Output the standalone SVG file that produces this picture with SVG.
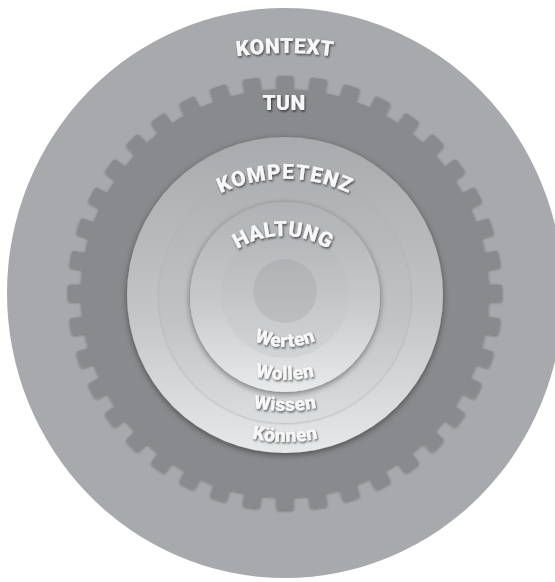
<svg xmlns="http://www.w3.org/2000/svg" xmlns:xlink="http://www.w3.org/1999/xlink" width="555" height="582" viewBox="0 0 555 582">
<style>
.lbl{font-family:Roboto,"Open Sans","Liberation Sans",sans-serif;font-weight:900;fill:#f7f7f7;filter:url(#ts);}
.cap{font-size:21px;letter-spacing:0.4px;}
.sm{font-size:19px;letter-spacing:0.3px;}
</style>
<defs>
<filter id="ts" x="-20%" y="-40%" width="140%" height="180%">
<feDropShadow dx="1" dy="1.5" stdDeviation="1.2" flood-color="#000" flood-opacity="0.6"/>
</filter>
<filter id="cs" x="-20%" y="-20%" width="140%" height="140%">
<feDropShadow dx="0" dy="2" stdDeviation="3" flood-color="#000" flood-opacity="0.45"/>
</filter>
<filter id="gs" x="-10%" y="-10%" width="120%" height="120%">
<feDropShadow dx="0" dy="1" stdDeviation="1.5" flood-color="#000" flood-opacity="0.35"/>
</filter>
<filter id="ws" x="-10%" y="-10%" width="120%" height="120%">
<feDropShadow dx="0" dy="1" stdDeviation="1.2" flood-color="#000" flood-opacity="0.18"/>
</filter>
<linearGradient id="g1" x1="0" y1="0" x2="0" y2="1">
<stop offset="0" stop-color="#a9aaad"/><stop offset="0.55" stop-color="#c3c4c6"/><stop offset="1" stop-color="#e7e8e9"/>
</linearGradient>
<linearGradient id="g2" x1="0" y1="0" x2="0" y2="1">
<stop offset="0" stop-color="#aeafb2"/><stop offset="0.6" stop-color="#c2c3c5"/><stop offset="1" stop-color="#dcdddf"/>
</linearGradient>
<linearGradient id="g3" x1="0" y1="0" x2="0" y2="1">
<stop offset="0" stop-color="#b0b1b4"/><stop offset="0.55" stop-color="#c9cacc"/><stop offset="1" stop-color="#e9eaeb"/>
</linearGradient>
<linearGradient id="g4" x1="0" y1="0" x2="0" y2="1">
<stop offset="0" stop-color="#b4b5b8"/><stop offset="1" stop-color="#d3d4d6"/>
</linearGradient>
<linearGradient id="g5" x1="0" y1="0" x2="0" y2="1">
<stop offset="0" stop-color="#b1b2b5"/><stop offset="1" stop-color="#bdbec0"/>
</linearGradient>
<rect id="tooth" x="276.5" y="76" width="17" height="22" rx="2.5"/>
<path id="pKon" d="M135,86.8 A350,350 0 0 1 435,86.8"/>
<path id="pKom" d="M145,275.1 A150,150 0 0 1 425,275.1"/>
<path id="pHal" d="M198,321 A85,85 0 0 1 368,321"/>
<path id="pWer" d="M205,267 A80,80 0 0 0 365,267"/>
<path id="pWol" d="M165,260 A120,120 0 0 0 405,260"/>
<path id="pWis" d="M125,251 A160,160 0 0 0 445,251"/>
<path id="pKoe" d="M125,282 A160,160 0 0 0 445,282"/>
</defs>
<rect width="555" height="582" fill="#ffffff"/>
<g id="kontext">
<ellipse cx="285" cy="293" rx="278" ry="285" fill="#a8a9ac"/>
<text class="lbl cap"><textPath xlink:href="#pKon" href="#pKon" startOffset="50%" text-anchor="middle">KONTEXT</textPath></text>
</g>
<g id="tun">
<g fill="#898a8d" filter="url(#gs)">
<circle cx="285" cy="293" r="204"/>
<use href="#tooth" xlink:href="#tooth" transform="rotate(0 285 293)"/>
<use href="#tooth" xlink:href="#tooth" transform="rotate(9 285 293)"/>
<use href="#tooth" xlink:href="#tooth" transform="rotate(18 285 293)"/>
<use href="#tooth" xlink:href="#tooth" transform="rotate(27 285 293)"/>
<use href="#tooth" xlink:href="#tooth" transform="rotate(36 285 293)"/>
<use href="#tooth" xlink:href="#tooth" transform="rotate(45 285 293)"/>
<use href="#tooth" xlink:href="#tooth" transform="rotate(54 285 293)"/>
<use href="#tooth" xlink:href="#tooth" transform="rotate(63 285 293)"/>
<use href="#tooth" xlink:href="#tooth" transform="rotate(72 285 293)"/>
<use href="#tooth" xlink:href="#tooth" transform="rotate(81 285 293)"/>
<use href="#tooth" xlink:href="#tooth" transform="rotate(90 285 293)"/>
<use href="#tooth" xlink:href="#tooth" transform="rotate(99 285 293)"/>
<use href="#tooth" xlink:href="#tooth" transform="rotate(108 285 293)"/>
<use href="#tooth" xlink:href="#tooth" transform="rotate(117 285 293)"/>
<use href="#tooth" xlink:href="#tooth" transform="rotate(126 285 293)"/>
<use href="#tooth" xlink:href="#tooth" transform="rotate(135 285 293)"/>
<use href="#tooth" xlink:href="#tooth" transform="rotate(144 285 293)"/>
<use href="#tooth" xlink:href="#tooth" transform="rotate(153 285 293)"/>
<use href="#tooth" xlink:href="#tooth" transform="rotate(162 285 293)"/>
<use href="#tooth" xlink:href="#tooth" transform="rotate(171 285 293)"/>
<use href="#tooth" xlink:href="#tooth" transform="rotate(180 285 293)"/>
<use href="#tooth" xlink:href="#tooth" transform="rotate(189 285 293)"/>
<use href="#tooth" xlink:href="#tooth" transform="rotate(198 285 293)"/>
<use href="#tooth" xlink:href="#tooth" transform="rotate(207 285 293)"/>
<use href="#tooth" xlink:href="#tooth" transform="rotate(216 285 293)"/>
<use href="#tooth" xlink:href="#tooth" transform="rotate(225 285 293)"/>
<use href="#tooth" xlink:href="#tooth" transform="rotate(234 285 293)"/>
<use href="#tooth" xlink:href="#tooth" transform="rotate(243 285 293)"/>
<use href="#tooth" xlink:href="#tooth" transform="rotate(252 285 293)"/>
<use href="#tooth" xlink:href="#tooth" transform="rotate(261 285 293)"/>
<use href="#tooth" xlink:href="#tooth" transform="rotate(270 285 293)"/>
<use href="#tooth" xlink:href="#tooth" transform="rotate(279 285 293)"/>
<use href="#tooth" xlink:href="#tooth" transform="rotate(288 285 293)"/>
<use href="#tooth" xlink:href="#tooth" transform="rotate(297 285 293)"/>
<use href="#tooth" xlink:href="#tooth" transform="rotate(306 285 293)"/>
<use href="#tooth" xlink:href="#tooth" transform="rotate(315 285 293)"/>
<use href="#tooth" xlink:href="#tooth" transform="rotate(324 285 293)"/>
<use href="#tooth" xlink:href="#tooth" transform="rotate(333 285 293)"/>
<use href="#tooth" xlink:href="#tooth" transform="rotate(342 285 293)"/>
<use href="#tooth" xlink:href="#tooth" transform="rotate(351 285 293)"/>
</g>
<text class="lbl cap" x="284" y="110" text-anchor="middle">TUN</text>
</g>
<g id="kompetenz">
<circle cx="285" cy="295" r="158" fill="url(#g1)" filter="url(#cs)"/>
<circle cx="285" cy="297" r="126" fill="url(#g2)" filter="url(#ws)"/>
<text class="lbl cap" style="letter-spacing:1px"><textPath xlink:href="#pKom" href="#pKom" startOffset="50%" text-anchor="middle">KOMPETENZ</textPath></text>
<text class="lbl sm"><textPath xlink:href="#pWis" href="#pWis" startOffset="50%" text-anchor="middle">Wissen</textPath></text>
<text class="lbl sm"><textPath xlink:href="#pKoe" href="#pKoe" startOffset="50%" text-anchor="middle">Können</textPath></text>
</g>
<g id="haltung">
<circle cx="285" cy="297" r="95" fill="url(#g3)" filter="url(#cs)"/>
<circle cx="285" cy="294" r="64" fill="url(#g4)"/>
<circle cx="285" cy="291" r="32" fill="url(#g5)"/>
<text class="lbl cap" style="letter-spacing:0.2px"><textPath xlink:href="#pHal" href="#pHal" startOffset="50%" text-anchor="middle">HALTUNG</textPath></text>
<text class="lbl sm"><textPath xlink:href="#pWer" href="#pWer" startOffset="50%" text-anchor="middle">Werten</textPath></text>
<text class="lbl sm"><textPath xlink:href="#pWol" href="#pWol" startOffset="50%" text-anchor="middle">Wollen</textPath></text>
</g>
</svg>
